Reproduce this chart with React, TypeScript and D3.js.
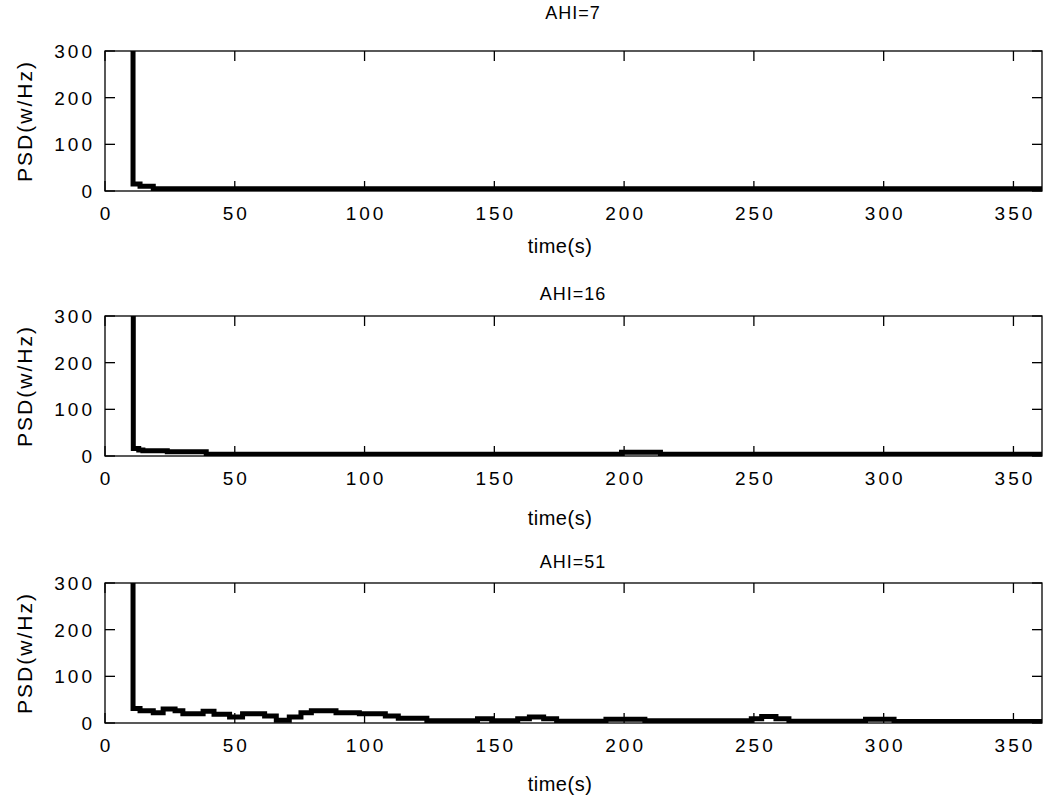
import React from "react";
import * as d3 from "d3";

// panel titles and the PSD traces (time in s, PSD in w/Hz)
const panelTitles = ["AHI=7", "AHI=16", "AHI=51"];

const timeAHI7 = [10, 10.8, 13.5, 18.6, 361];
const psdAHI7 = [1500, 15, 10, 5, 5];

const timeAHI16 = [10, 10.9, 13, 14.6, 24, 39, 199, 214, 361];
const psdAHI16 = [1500, 16, 13, 11, 9, 4, 8, 4, 4];

const timeAHI51 = [
  10, 10.8, 13.5, 18.6, 22.4, 27, 30, 37.8, 42, 48, 53, 61.5, 66, 71, 75.5,
  79.5, 89, 98, 108, 113, 124, 143.5, 149, 159, 163.5, 169, 174, 193, 208,
  249, 253, 258.5, 263.5, 293, 304, 361,
];
const psdAHI51 = [
  1500, 31, 26, 22, 30, 26, 20, 25, 19, 13, 20, 15, 6, 13, 22, 26, 22, 20, 15,
  10, 5, 9, 5, 9, 13, 9, 4, 8, 5, 9, 14, 9, 4, 8, 3, 3,
];

const xTicks = [0, 50, 100, 150, 200, 250, 300, 350];
const yTicks = [0, 100, 200, 300];

const series = [
  { t: timeAHI7, v: psdAHI7 },
  { t: timeAHI16, v: psdAHI16 },
  { t: timeAHI51, v: psdAHI51 },
];

// layout (pixel boxes of the three axes)
const W = 1044;
const H = 796;
const left = 105;
const right = 1042;
const tops = [51, 316, 583];
const plotH = 140;
const titleY = [19, 300, 568];
const xlabelY = [253, 525, 791];

const font = "'Liberation Sans', Arial, Helvetica, sans-serif";

function Panel({ i }: { i: number }) {
  const top = tops[i];
  const bottom = top + plotH;
  const x = d3.scaleLinear().domain([0, 361]).range([left, right]);
  const y = d3.scaleLinear().domain([0, 300]).range([bottom, top]);
  const s = series[i];
  const pts: [number, number][] = s.t.map((t, k) => [t, s.v[k]]);
  const line = d3
    .line<[number, number]>()
    .x((d) => x(d[0]))
    .y((d) => y(d[1]))
    .curve(d3.curveStepAfter);
  const clipId = `clip${i}`;
  const tickLen = 10;
  return (
    <g>
      <clipPath id={clipId}>
        <rect x={left} y={top} width={right - left} height={plotH} />
      </clipPath>
      <path
        d={line(pts) || ""}
        fill="none"
        stroke="#000"
        strokeWidth={5}
        clipPath={`url(#${clipId})`}
      />
      <rect
        x={left}
        y={top}
        width={right - left}
        height={plotH}
        fill="none"
        stroke="#000"
        strokeWidth={1.3}
      />
      {xTicks.map((t) => (
        <g key={"x" + t}>
          <line x1={x(t)} x2={x(t)} y1={bottom} y2={bottom - tickLen} stroke="#000" strokeWidth={1.3} />
          <line x1={x(t)} x2={x(t)} y1={top} y2={top + tickLen} stroke="#000" strokeWidth={1.3} />
          <text
            x={x(t) + 1.5}
            y={bottom + 29}
            textAnchor="middle"
            fontSize={19}
            letterSpacing={3}
            fontFamily={font}
          >
            {t}
          </text>
        </g>
      ))}
      {yTicks.map((t) => (
        <g key={"y" + t}>
          <line x1={left} x2={left + tickLen} y1={y(t)} y2={y(t)} stroke="#000" strokeWidth={1.3} />
          <line x1={right} x2={right - tickLen} y1={y(t)} y2={y(t)} stroke="#000" strokeWidth={1.3} />
          <text
            x={95}
            y={y(t) + 7}
            textAnchor="end"
            fontSize={19}
            letterSpacing={3}
            fontFamily={font}
          >
            {t}
          </text>
        </g>
      ))}
      <text
        x={573}
        y={titleY[i]}
        textAnchor="middle"
        fontSize={18}
        letterSpacing={1}
        fontFamily={font}
      >
        {panelTitles[i]}
      </text>
      <text
        x={560}
        y={xlabelY[i]}
        textAnchor="middle"
        fontSize={20}
        letterSpacing={0.5}
        fontFamily={font}
      >
        time(s)
      </text>
      <text
        transform={`translate(32,${(top + bottom) / 2}) rotate(-90)`}
        textAnchor="middle"
        fontSize={21}
        letterSpacing={2}
        fontFamily={font}
      >
        PSD(w/Hz)
      </text>
    </g>
  );
}

export default function App() {
  return (
    <svg
      width={W}
      height={H}
      style={{ position: "absolute", left: 0, top: 0, background: "#fff" }}
    >
      <rect width={W} height={H} fill="#fff" />
      {panelTitles.map((_, i) => (
        <Panel key={i} i={i} />
      ))}
    </svg>
  );
}
